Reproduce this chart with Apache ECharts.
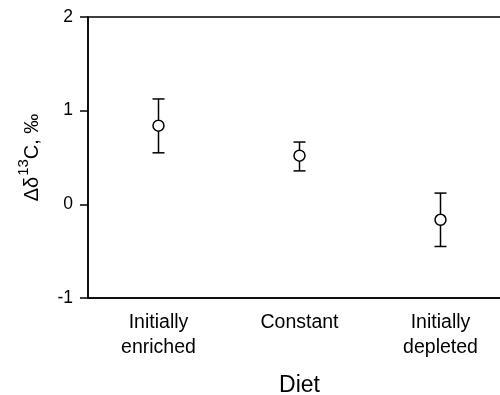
<!DOCTYPE html>
<html>
<head>
<meta charset="utf-8">
<title>Diet</title>
<script src="https://cdn.jsdelivr.net/npm/echarts@6/dist/echarts.min.js"></script>
<style>
    *{margin:0;padding:0;}
    body{background:#fff;}
    #main{width:500px;height:395px;}
</style>
</head>
<body>
<div id="main"></div>
<script>
    // data
    var diets = ['Initially\nenriched', 'Constant', 'Initially\ndepleted'];
    var meanVals = [0.84, 0.52, -0.165];
    var upperVals = [1.125, 0.665, 0.12];
    var lowerVals = [0.55, 0.357, -0.45];
    var yTicks = [-1, 0, 1, 2];

    var font = 'Liberation Sans, Arial, sans-serif';

    var barData = [];
    for (var i = 0; i < diets.length; i++) {
        barData.push([i, lowerVals[i], upperVals[i]]);
    }

    var myChart = echarts.init(document.getElementById('main'));
    var option = {
        animation: false,
        grid: {
            left: 88, width: 423, top: 17, bottom: 97,
            outerBoundsMode: 'none',
            containLabel: false,
            show: true, borderColor: '#000', borderWidth: 1.5
        },
        xAxis: {
            type: 'category',
            data: diets,
            boundaryGap: true,
            name: 'Diet',
            nameLocation: 'middle',
            nameGap: 76,
            nameTextStyle: {color: '#000', fontSize: 23, fontFamily: font},
            axisLine: {onZero: false, lineStyle: {color: '#000', width: 1.5}},
            axisTick: {alignWithLabel: true, length: 7, lineStyle: {color: '#000', width: 1.5}},
            axisLabel: {color: '#000', fontSize: 19.5, fontFamily: font, lineHeight: 25, margin: 12, interval: 0},
            splitLine: {show: false}
        },
        yAxis: {
            type: 'value',
            min: yTicks[0],
            max: yTicks[yTicks.length - 1],
            interval: 1,
            name: '{a|Δδ}{s|13}{a|C, ‰}',
            nameLocation: 'middle',
            nameGap: 46,
            nameTextStyle: {
                rich: {
                    a: {fontSize: 20, fontFamily: font, color: '#000', lineHeight: 26, verticalAlign: 'bottom'},
                    s: {fontSize: 15, fontFamily: font, color: '#000', lineHeight: 26, verticalAlign: 'top', padding: [0, 0, 0, 1]}
                }
            },
            axisLine: {show: true, lineStyle: {color: '#000', width: 1.5}},
            axisTick: {show: true, length: 8, lineStyle: {color: '#000', width: 1.5}},
            axisLabel: {color: '#000', fontSize: 17.5, fontFamily: font, margin: 15},
            splitLine: {show: false}
        },
        series: [{
            type: 'custom',
            data: barData,
            z: 2,
            renderItem: function (params, api) {
                var x = api.coord([api.value(0), 0])[0];
                var lo = api.coord([api.value(0), api.value(1)])[1];
                var hi = api.coord([api.value(0), api.value(2)])[1];
                var w = 6;
                var st = {stroke: '#000', lineWidth: 1.5};
                return {
                    type: 'group',
                    children: [
                        {type: 'line', shape: {x1: x, y1: lo, x2: x, y2: hi}, style: st},
                        {type: 'line', shape: {x1: x - w, y1: hi, x2: x + w, y2: hi}, style: st},
                        {type: 'line', shape: {x1: x - w, y1: lo, x2: x + w, y2: lo}, style: st}
                    ]
                };
            }
        }, {
            type: 'scatter',
            data: meanVals,
            z: 3,
            symbol: 'circle',
            symbolSize: 11,
            itemStyle: {color: '#fff', borderColor: '#000', borderWidth: 1.5, opacity: 1}
        }]
    };
    myChart.setOption(option);
</script>
</body>
</html>
